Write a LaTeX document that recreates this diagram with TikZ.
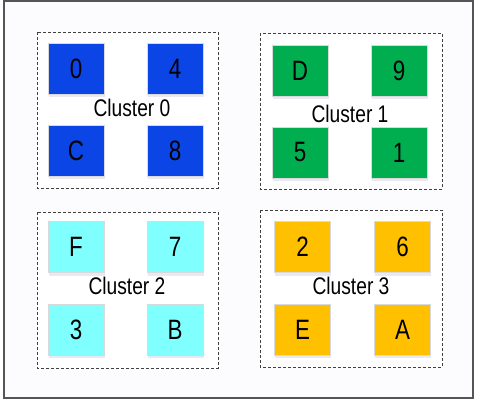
\documentclass[tikz,border=0pt]{standalone}
\usepackage{fontspec}
\setmainfont{Liberation Sans}
\usetikzlibrary{shadows}
\definecolor{cblue}{HTML}{0B45E6}
\definecolor{cgreen}{HTML}{00AE50}
\definecolor{ccyan}{HTML}{80FFFF}
\definecolor{corange}{HTML}{FFC000}
\definecolor{frame}{HTML}{555555}
\definecolor{bgin}{HTML}{FCFCFE}
\tikzset{
  sq/.style={draw=black!15, line width=0.6pt, minimum width=56pt, minimum height=51pt, inner sep=0pt,
    font=\fontsize{28}{28}\selectfont,
    drop shadow={opacity=0.12, shadow xshift=0.5pt, shadow yshift=-3pt, fill=blue!40!gray}},
  clus/.style={draw=black!75, dash pattern=on 3pt off 2pt, line width=0.6pt},
  clabel/.style={inner sep=0pt, font=\fontsize{24}{24}\selectfont},
}
\newcommand{\sqz}[1]{\scalebox{0.8}[1]{#1}}
\begin{document}
\begin{tikzpicture}[x=1pt,y=-1pt]
\useasboundingbox (0,0) rectangle (482,410);
\fill[white] (0,0) rectangle (482,410);
\draw[frame, line width=1.3pt, fill=bgin] (4,1) rectangle (473,398);
% clusters
\draw[clus, fill=white] (37,32) rectangle (218,188);
\draw[clus, fill=white] (260,33) rectangle (442,189);
\draw[clus, fill=white] (37,212) rectangle (218,368);
\draw[clus, fill=white] (260,210) rectangle (442,367);
% cluster 0
\node[sq, fill=cblue] (n0) at (76,68.5) {\sqz{0}};
\node[sq, fill=cblue] (n4) at (175,68.5) {\sqz{4}};
\node[sq, fill=cblue] (nC) at (76,150.5) {\sqz{C}};
\node[sq, fill=cblue] (n8) at (175,150.5) {\sqz{8}};
\node[clabel] (l0) at (132,108) {\sqz{Cluster 0}};
% cluster 1
\node[sq, fill=cgreen] (nD) at (300,70.5) {\sqz{D}};
\node[sq, fill=cgreen] (n9) at (399,70.5) {\sqz{9}};
\node[sq, fill=cgreen] (n5) at (300,152.5) {\sqz{5}};
\node[sq, fill=cgreen] (n1) at (399,152.5) {\sqz{1}};
\node[clabel] (l1) at (350,114) {\sqz{Cluster 1}};
% cluster 2
\node[sq, fill=ccyan] (nF) at (76,247) {\sqz{F}};
\node[sq, fill=ccyan] (n7) at (175,247) {\sqz{7}};
\node[sq, fill=ccyan] (n3) at (76,329.5) {\sqz{3}};
\node[sq, fill=ccyan] (nB) at (175,329.5) {\sqz{B}};
\node[clabel] (l2) at (127,286) {\sqz{Cluster 2}};
% cluster 3
\node[sq, fill=corange] (n2) at (302.5,247) {\sqz{2}};
\node[sq, fill=corange] (n6) at (402.5,247) {\sqz{6}};
\node[sq, fill=corange] (nE) at (302.5,329.5) {\sqz{E}};
\node[sq, fill=corange] (nA) at (402.5,329.5) {\sqz{A}};
\node[clabel] (l3) at (351,286) {\sqz{Cluster 3}};
\end{tikzpicture}
\end{document}
